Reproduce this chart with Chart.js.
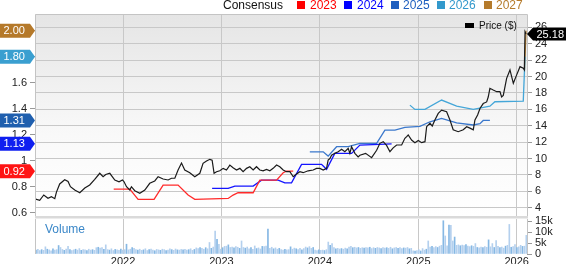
<!DOCTYPE html>
<html>
<head>
<meta charset="utf-8">
<script src="https://cdn.jsdelivr.net/npm/chart.js@4.4.1/dist/chart.umd.min.js"></script>
<style>
  body { margin: 0; background: #fff; }
  #wrap { position: relative; width: 568px; height: 264px; overflow: hidden; font-family: "Liberation Sans", Arial, sans-serif; }
  #main { position: absolute; left: 0; top: 0; }
  #vol { position: absolute; left: 0; top: 216px; }
  .lg { position: absolute; font-size: 12px; line-height: 12px; white-space: nowrap; }
  .sq { position: absolute; width: 8px; height: 8px; }
</style>
</head>
<body>
<div id="wrap">
  <canvas id="main" width="568" height="219"></canvas>
  <canvas id="vol" width="568" height="48"></canvas>

  <!-- consensus legend across the top -->
  <div class="lg" style="left:223px; top:-1px; color:#111;">Consensus</div>
  <div class="sq" style="left:297px; top:1px; background:#ff0000;"></div>
  <div class="lg" style="left:310px; top:-1px; color:#ff0000;">2023</div>
  <div class="sq" style="left:344px; top:1px; background:#0000ff;"></div>
  <div class="lg" style="left:357px; top:-1px; color:#0000ff;">2024</div>
  <div class="sq" style="left:391px; top:1px; background:#1f5fbf;"></div>
  <div class="lg" style="left:403px; top:-1px; color:#1f5fbf;">2025</div>
  <div class="sq" style="left:437px; top:1px; background:#3399cc;"></div>
  <div class="lg" style="left:449px; top:-1px; color:#3399cc;">2026</div>
  <div class="sq" style="left:484px; top:1px; background:#b57b2c;"></div>
  <div class="lg" style="left:496px; top:-1px; color:#b57b2c;">2027</div>

  <div style="position:absolute; left:465px; top:23px; width:9px; height:5px; background:#000;"></div>
  <div class="lg" style="left:479px; top:21px; font-size:10px; line-height:10px; color:#111;">Price ($)</div>
  <div class="lg" style="left:45px; top:223px; color:#3a87c8;">Volume</div>
</div>

<script>
// x axis is in decimal years
const xMin = 2021.105;
const xMax = 2026.105;
const yearTicks = [2022, 2023, 2024, 2025, 2026];
const priceTicks = [4, 6, 8, 10, 12, 14, 16, 18, 20, 22, 24, 26];
const epsTicks = [0.6, 0.8, 1, 1.2, 1.4, 1.6, 1.8, 2];
const volTicks = [0, 5, 10, 15];

// share price, [date, $]
const price = [
  [2021.112, 5.05], [2021.153, 4.90], [2021.194, 5.55], [2021.237, 5.15], [2021.272, 5.34],
  [2021.306, 5.10], [2021.323, 5.90], [2021.356, 6.90], [2021.407, 7.40], [2021.441, 7.20],
  [2021.465, 6.56], [2021.509, 6.16], [2021.560, 5.83], [2021.611, 6.40], [2021.661, 6.77],
  [2021.712, 7.45], [2021.763, 8.20], [2021.797, 7.78], [2021.824, 8.05], [2021.865, 8.20],
  [2021.916, 7.38], [2021.959, 7.17], [2021.994, 7.38], [2022.010, 7.17], [2022.035, 6.56],
  [2022.068, 6.16], [2022.085, 6.56], [2022.119, 6.07], [2022.170, 5.76], [2022.221, 6.16],
  [2022.271, 6.98], [2022.322, 7.26], [2022.356, 7.78], [2022.407, 7.50], [2022.458, 7.38],
  [2022.492, 7.59], [2022.526, 7.59], [2022.559, 8.60], [2022.594, 9.45], [2022.627, 8.60],
  [2022.678, 8.27], [2022.729, 7.78], [2022.780, 8.20], [2022.813, 9.41], [2022.848, 9.70],
  [2022.882, 9.90], [2022.905, 9.80], [2022.925, 8.20], [2022.950, 8.39], [2022.983, 8.50],
  [2023.017, 8.80], [2023.051, 8.60], [2023.085, 9.20], [2023.118, 8.88], [2023.153, 8.60],
  [2023.187, 8.80], [2023.220, 8.39], [2023.255, 8.80], [2023.288, 9.00], [2023.322, 8.60],
  [2023.356, 9.00], [2023.390, 8.60], [2023.423, 8.50], [2023.458, 8.68], [2023.492, 8.50],
  [2023.525, 8.80], [2023.560, 9.20], [2023.593, 9.00], [2023.627, 8.60], [2023.661, 8.39],
  [2023.695, 8.39], [2023.729, 7.78], [2023.763, 8.10], [2023.797, 8.39], [2023.830, 8.27],
  [2023.881, 8.50], [2023.932, 8.60], [2023.966, 8.80], [2024.000, 8.80], [2024.034, 8.60],
  [2024.068, 8.80], [2024.084, 9.80], [2024.102, 10.00], [2024.119, 10.40], [2024.152, 10.63],
  [2024.186, 10.83], [2024.221, 11.12], [2024.254, 10.83], [2024.288, 11.24], [2024.305, 10.63],
  [2024.322, 11.44], [2024.356, 10.63], [2024.389, 10.20], [2024.407, 10.40], [2024.465, 10.63],
  [2024.526, 10.10], [2024.577, 11.00], [2024.610, 11.85], [2024.644, 12.05], [2024.678, 11.60],
  [2024.712, 10.83], [2024.745, 11.30], [2024.780, 11.65], [2024.831, 11.65], [2024.864, 12.46],
  [2024.882, 12.66], [2024.898, 12.87], [2024.932, 12.26], [2024.966, 11.93], [2025.000, 12.20],
  [2025.034, 11.93], [2025.068, 12.05], [2025.085, 13.88], [2025.119, 14.30], [2025.142, 13.96],
  [2025.169, 14.70], [2025.203, 15.50], [2025.237, 15.90], [2025.288, 15.70], [2025.322, 14.70],
  [2025.355, 13.50], [2025.406, 13.27], [2025.457, 13.50], [2025.492, 13.88], [2025.525, 13.70],
  [2025.559, 13.50], [2025.576, 14.70], [2025.603, 15.30], [2025.627, 16.10], [2025.660, 16.70],
  [2025.695, 16.90], [2025.711, 17.50], [2025.728, 18.56], [2025.762, 18.35], [2025.797, 18.15],
  [2025.830, 18.15], [2025.847, 17.50], [2025.864, 17.70], [2025.898, 19.78], [2025.932, 20.80],
  [2025.966, 19.17], [2026.000, 20.20], [2026.034, 21.20], [2026.067, 21.00], [2026.078, 20.80],
  [2026.085, 25.46], [2026.095, 25.18]
];

// consensus EPS estimates by fiscal year, [date, eps]
const eps2023 = [
  [2021.905, 0.782], [2022.068, 0.782], [2022.153, 0.703], [2022.315, 0.703], [2022.407, 0.813],
  [2022.559, 0.813], [2022.661, 0.736], [2022.729, 0.703], [2023.068, 0.710], [2023.118, 0.736],
  [2023.169, 0.754], [2023.322, 0.754], [2023.390, 0.851], [2023.560, 0.851], [2023.627, 0.908],
  [2023.661, 0.920], [2023.729, 0.920]
];
const eps2024 = [
  [2022.905, 0.788], [2023.068, 0.788], [2023.136, 0.805], [2023.322, 0.805], [2023.407, 0.851],
  [2023.576, 0.851], [2023.644, 0.830], [2023.712, 0.830], [2023.814, 0.972], [2024.017, 0.972],
  [2024.068, 0.934], [2024.152, 1.057], [2024.322, 1.057], [2024.407, 1.120], [2024.729, 1.130]
];
const eps2025 = [
  [2023.898, 1.069], [2024.034, 1.069], [2024.084, 1.036], [2024.170, 1.108], [2024.288, 1.108],
  [2024.407, 1.134], [2024.577, 1.134], [2024.661, 1.236], [2024.763, 1.236], [2024.864, 1.257],
  [2025.017, 1.265], [2025.119, 1.300], [2025.237, 1.326], [2025.390, 1.292], [2025.559, 1.275],
  [2025.627, 1.285], [2025.660, 1.310], [2025.728, 1.310]
];
const eps2026 = [
  [2024.915, 1.428], [2024.966, 1.395], [2025.068, 1.395], [2025.237, 1.467], [2025.390, 1.420],
  [2025.559, 1.395], [2025.728, 1.420], [2025.779, 1.454], [2026.067, 1.459], [2026.085, 1.800]
];
const eps2027 = [[2026.080, 1.700], [2026.095, 2.000]];

// weekly volume in thousands, starting at volStart
const volStart = 2021.115;
const volume = [
  1.8, 2.1, 1.6, 2.0, 1.7, 3.3, 2.2, 1.9, 1.5, 2.4, 1.8, 2.0, 3.9, 3.0, 2.1, 1.7, 2.3, 3.5, 2.0, 1.6, 1.9, 2.2, 1.8, 2.5, 1.7, 2.0,
  1.9, 1.6, 2.2, 1.8, 2.0, 1.7, 2.9, 3.1, 2.7, 3.0, 2.2, 4.2, 2.0, 1.8, 2.4, 1.6, 2.1, 1.9, 1.7, 2.3, 1.8, 2.0, 4.5, 1.9, 2.2, 3.0,
  2.6, 2.0, 1.8, 2.2, 1.7, 1.9, 2.4, 1.6, 2.0, 2.3, 1.8, 1.5, 2.1, 1.9, 1.7, 2.2, 2.0, 1.6, 1.8, 2.4, 2.0, 1.7, 2.3, 1.9, 1.8, 2.1,
  1.9, 2.2, 1.8, 2.0, 2.4, 1.7, 2.1, 2.8, 2.5, 3.0, 2.6, 2.2, 2.9, 2.4, 5.3, 2.6, 3.2, 10.5, 6.8, 4.5, 2.2, 2.9, 3.5, 3.6, 4.2, 3.0,
  3.2, 2.8, 3.4, 3.1, 2.6, 6.0, 3.0, 2.7, 3.2, 2.4, 2.9, 2.2, 3.7, 2.5, 2.8, 2.3, 3.5, 3.4, 3.6, 11.5, 2.6, 3.1, 2.4, 2.8, 2.2, 2.6,
  2.0, 1.8, 2.1, 1.9, 2.0, 3.3, 2.2, 2.7, 2.4, 2.0, 2.6, 1.9, 2.5, 3.2, 2.8, 3.4, 2.6, 3.0, 1.8, 1.6, 1.9, 1.7, 1.8, 1.6, 2.0, 5.5,
  4.0, 4.8, 3.0, 2.4, 2.6, 2.3, 2.5, 2.2, 2.7, 2.4, 3.2, 3.5, 2.9, 3.1, 2.8, 3.0, 2.6, 2.9, 2.7, 3.0, 2.8, 3.1, 2.5, 2.9, 2.6, 3.0,
  2.8, 2.5, 3.0, 2.7, 2.9, 2.6, 3.1, 2.4, 2.8, 3.0, 2.6, 2.9, 2.5, 2.8, 2.7, 3.0, 2.4, 2.6, 1.5, 1.3, 1.6, 2.0, 1.4, 2.5, 1.8, 2.2,
  6.0, 3.2, 3.5, 2.9, 3.4, 3.0, 3.6, 4.0, 15.3, 8.3, 3.8, 13.3, 13.2, 6.0, 7.8, 4.0, 4.2, 3.8, 4.1, 3.9, 4.3, 3.6, 3.4, 3.8, 3.5, 4.8,
  3.0, 2.8, 3.2, 2.9, 3.4, 3.1, 6.5, 3.3, 4.8, 3.0, 6.2, 3.5, 2.9, 3.2, 2.7, 3.6, 4.0, 13.6, 3.1, 3.4, 4.3, 3.0, 3.3, 4.0, 3.5, 3.6, 8.6
];

const FONT = '"Liberation Sans", Arial, sans-serif';
Chart.defaults.font.family = FONT;
Chart.defaults.font.size = 11;
Chart.defaults.color = '#222';

const toXY = pts => pts.map(p => ({ x: p[0], y: p[1] }));
const setTicks = vals => s => { s.ticks = vals.map(v => ({ value: v })); };

const consensus = [
  { label: '2023', data: eps2023, line: '#ff2a2a', tag: '#ff1414' },
  { label: '2024', data: eps2024, line: '#1414ff', tag: '#0f1ff0' },
  { label: '2025', data: eps2025, line: '#3b78cc', tag: '#1f5fae' },
  { label: '2026', data: eps2026, line: '#44a6d8', tag: '#3a9fd0' },
  { label: '2027', data: eps2027, line: '#b8802f', tag: '#b5792a' }
];

function leftTag(ctx, y, text, color) {
  ctx.beginPath();
  ctx.moveTo(0, y - 7);
  ctx.lineTo(30, y - 7);
  ctx.lineTo(35, y);
  ctx.lineTo(30, y + 7);
  ctx.lineTo(0, y + 7);
  ctx.closePath();
  ctx.fillStyle = color;
  ctx.fill();
  ctx.fillStyle = '#fff';
  ctx.font = '11px ' + FONT;
  ctx.textAlign = 'left';
  ctx.textBaseline = 'middle';
  ctx.fillText(text, 3.5, y + 0.5);
}

function rightTag(ctx, y, text) {
  ctx.beginPath();
  ctx.moveTo(527, y);
  ctx.lineTo(533, y - 6.5);
  ctx.lineTo(566, y - 6.5);
  ctx.lineTo(566, y + 6.5);
  ctx.lineTo(533, y + 6.5);
  ctx.closePath();
  ctx.fillStyle = '#000';
  ctx.fill();
  ctx.fillStyle = '#fff';
  ctx.font = '11px ' + FONT;
  ctx.textAlign = 'left';
  ctx.textBaseline = 'middle';
  ctx.fillText(text, 536.5, y + 0.5);
}

const mainDeco = {
  id: 'mainDeco',
  beforeDraw(chart) {
    const { ctx, chartArea: a } = chart;
    const g = ctx.createLinearGradient(0, a.top, 0, a.bottom);
    g.addColorStop(0, '#e5e5e5');
    g.addColorStop(0.6, '#f9f9f9');
    g.addColorStop(1, '#ffffff');
    ctx.save();
    ctx.fillStyle = g;
    ctx.fillRect(a.left, a.top, a.right - a.left, a.bottom - a.top);
    ctx.restore();
  },
  afterDraw(chart) {
    const { ctx, chartArea: a } = chart;
    ctx.save();
    ctx.strokeStyle = '#c4c4c4';
    ctx.lineWidth = 1;
    ctx.beginPath();
    ctx.moveTo(a.left + 0.5, a.bottom);
    ctx.lineTo(a.left + 0.5, a.top + 0.5);
    ctx.lineTo(a.right + 0.5, a.top + 0.5);
    ctx.lineTo(a.right + 0.5, a.bottom);
    ctx.stroke();
    // last consensus value of each year, highest first
    consensus.slice().reverse().forEach(c => {
      const v = c.data[c.data.length - 1][1];
      leftTag(ctx, chart.scales.yE.getPixelForValue(v), v.toFixed(2), c.tag);
    });
    const last = price[price.length - 1][1];
    rightTag(ctx, chart.scales.yP.getPixelForValue(last), last.toFixed(2));
    ctx.restore();
  }
};

const volDeco = {
  id: 'volDeco',
  beforeDraw(chart) {
    const { ctx, chartArea: a } = chart;
    ctx.save();
    ctx.fillStyle = '#dadada';
    ctx.fillRect(a.left, 0, a.right - a.left + 1, 2.5);
    ctx.restore();
  },
  afterDraw(chart) {
    const { ctx, chartArea: a } = chart;
    ctx.save();
    ctx.strokeStyle = '#c4c4c4';
    ctx.beginPath();
    ctx.moveTo(a.left + 0.5, a.top);
    ctx.lineTo(a.left + 0.5, a.bottom);
    ctx.moveTo(a.right + 0.5, a.top);
    ctx.lineTo(a.right + 0.5, a.bottom);
    ctx.stroke();
    ctx.restore();
  }
};

const datasets = [{
  label: 'Price ($)',
  data: toXY(price),
  yAxisID: 'yP',
  borderColor: '#1a1a1a',
  borderWidth: 1.2,
  order: 0
}];
consensus.forEach(c => {
  datasets.push({
    label: c.label,
    data: toXY(c.data),
    yAxisID: 'yE',
    borderColor: c.line,
    borderWidth: 1.3,
    order: 1
  });
});

new Chart(document.getElementById('main'), {
  type: 'line',
  data: { datasets: datasets },
  options: {
    responsive: false,
    animation: false,
    layout: { padding: { top: 14, bottom: 3 } },
    elements: { point: { radius: 0 }, line: { tension: 0 } },
    plugins: { legend: { display: false }, tooltip: { enabled: false } },
    scales: {
      x: {
        type: 'linear', min: xMin, max: xMax,
        afterBuildTicks: setTicks(yearTicks),
        ticks: { display: false },
        grid: { color: '#c8c8c8', drawTicks: false },
        border: { display: false },
        afterFit: s => { s.height = 0; s.paddingLeft = 0; s.paddingRight = 0; }
      },
      yE: {
        position: 'left', min: 0.575, max: 2.129,
        afterBuildTicks: setTicks(epsTicks),
        ticks: { padding: 3, autoSkip: false, callback: v => String(v) },
        grid: { drawOnChartArea: false, tickLength: 5, tickColor: '#999' },
        border: { display: false },
        afterFit: s => { s.width = 35; s.paddingTop = 0; s.paddingBottom = 0; }
      },
      yP: {
        position: 'right', min: 2.99, max: 27.62,
        afterBuildTicks: setTicks(priceTicks),
        ticks: { padding: 3, autoSkip: false, callback: v => String(v) },
        grid: { color: '#c8c8c8', tickLength: 5, tickColor: '#999' },
        border: { display: false },
        afterFit: s => { s.width = 41; s.paddingTop = 0; s.paddingBottom = 0; }
      }
    }
  },
  plugins: [mainDeco]
});

new Chart(document.getElementById('vol'), {
  type: 'bar',
  data: {
    datasets: [{
      label: 'Volume',
      data: volume.map((v, i) => ({ x: volStart + i * 7 / 365.25, y: v })),
      backgroundColor: ctx => (ctx.dataIndex % 3 === 0 ? '#86b8e4' : '#b4d0ee'),
      barThickness: 1,
      categoryPercentage: 1,
      barPercentage: 1
    }]
  },
  options: {
    responsive: false,
    animation: false,
    layout: { padding: { top: 3, left: 35 } },
    plugins: { legend: { display: false }, tooltip: { enabled: false } },
    scales: {
      x: {
        type: 'linear', min: xMin, max: xMax, offset: false,
        afterBuildTicks: setTicks(yearTicks),
        ticks: { padding: 1, maxRotation: 0, autoSkip: false, callback: v => String(v) },
        grid: { color: '#c8c8c8', drawTicks: false, offset: false },
        border: { display: false },
        afterFit: s => { s.height = 10; s.paddingLeft = 0; s.paddingRight = 0; }
      },
      y: {
        position: 'right', min: 0, max: 16.1,
        afterBuildTicks: setTicks(volTicks),
        ticks: { padding: 3, autoSkip: false, callback: v => (v === 0 ? '0' : v + 'k') },
        grid: { drawOnChartArea: false, tickLength: 5, tickColor: '#999' },
        border: { display: false },
        afterFit: s => { s.width = 41; s.paddingTop = 0; s.paddingBottom = 0; }
      }
    }
  },
  plugins: [volDeco]
});
</script>
</body>
</html>
